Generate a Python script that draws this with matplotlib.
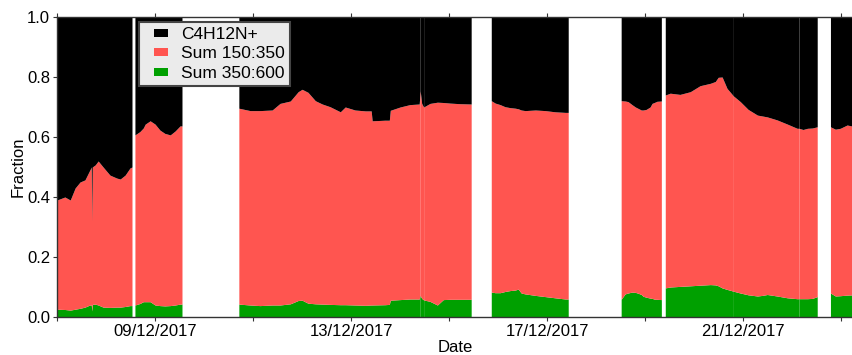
import numpy as np
import pandas as pd
import matplotlib
matplotlib.use("Agg")
import matplotlib.pyplot as plt
import matplotlib.dates as mdates
from matplotlib.patches import Rectangle
from matplotlib.legend_handler import HandlerPatch

plt.rcParams['font.family'] = ['Liberation Sans', 'DejaVu Sans']

# Fractions of the three signal groups, logged in chunks (days since 07/12/2017)
start = pd.Timestamp("2017-12-07 00:00")

chunk_days = [
    [0.00, 0.16, 0.27, 0.37, 0.47, 0.57, 0.67, 0.70, 0.71, 0.72, 0.78, 0.84,
     0.94, 1.08, 1.22, 1.29, 1.39, 1.49, 1.53],
    [1.59, 1.69, 1.76, 1.80, 1.90, 2.00, 2.10, 2.20, 2.31, 2.41, 2.51, 2.55],
    [3.71, 3.94, 4.14, 4.39, 4.55, 4.76, 4.92, 5.00, 5.12, 5.27, 5.41, 5.57,
     5.78, 5.88, 6.08, 6.29, 6.41, 6.43, 6.69, 6.78, 6.80, 7.00, 7.20, 7.39, 7.41],
    [7.41, 7.44, 7.48],
    [7.48, 7.61, 7.76, 7.88, 8.02, 8.22, 8.45],
    [8.86, 8.94, 9.04, 9.14, 9.24, 9.35, 9.41, 9.47, 9.55, 9.76, 9.96, 10.16,
     10.37, 10.43],
    [11.51, 11.59, 11.65, 11.73, 11.80, 11.86, 11.92, 11.96, 12.02, 12.10,
     12.14, 12.20, 12.24, 12.33],
    [12.41, 12.51, 12.71, 12.92, 13.12, 13.33, 13.43, 13.49, 13.57, 13.67, 13.80],
    [13.80, 13.94, 14.10, 14.29, 14.39, 14.49, 14.69, 14.90, 15.10, 15.14],
    [15.14, 15.22, 15.31, 15.41, 15.51],
    [15.78, 15.88, 15.98, 16.12, 16.29],
]

# Sum 350:600
chunk_s350 = [
    [0.026, 0.025, 0.023, 0.026, 0.029, 0.033, 0.040, 0.040, 0.020, 0.042, 0.043,
     0.040, 0.033, 0.032, 0.033, 0.033, 0.035, 0.038, 0.038],
    [0.040, 0.045, 0.051, 0.051, 0.051, 0.040, 0.038, 0.037, 0.038, 0.040, 0.043, 0.043],
    [0.043, 0.040, 0.038, 0.040, 0.040, 0.044, 0.055, 0.056, 0.046, 0.044, 0.043,
     0.042, 0.041, 0.041, 0.040, 0.039, 0.040, 0.040, 0.041, 0.042, 0.056, 0.058,
     0.060, 0.060, 0.072],
    [0.072, 0.062, 0.057],
    [0.057, 0.052, 0.040, 0.058, 0.059, 0.059, 0.059],
    [0.083, 0.081, 0.081, 0.085, 0.088, 0.090, 0.093, 0.080, 0.077, 0.072, 0.068,
     0.064, 0.060, 0.060],
    [0.059, 0.077, 0.080, 0.083, 0.082, 0.079, 0.075, 0.069, 0.066, 0.063, 0.062,
     0.059, 0.059, 0.058],
    [0.097, 0.100, 0.102, 0.104, 0.106, 0.108, 0.107, 0.104, 0.097, 0.092, 0.086],
    [0.086, 0.080, 0.074, 0.070, 0.072, 0.075, 0.070, 0.064, 0.061, 0.061],
    [0.061, 0.061, 0.061, 0.062, 0.068],
    [0.080, 0.070, 0.071, 0.073, 0.074],
]

# Sum 150:350
chunk_s150 = [
    [0.364, 0.375, 0.367, 0.404, 0.421, 0.424, 0.450, 0.460, 0.300, 0.458, 0.464,
     0.480, 0.467, 0.441, 0.430, 0.427, 0.438, 0.459, 0.462],
    [0.567, 0.573, 0.579, 0.592, 0.603, 0.603, 0.585, 0.575, 0.569, 0.580, 0.594, 0.594],
    [0.653, 0.648, 0.650, 0.650, 0.672, 0.676, 0.696, 0.703, 0.703, 0.677, 0.667,
     0.659, 0.643, 0.659, 0.650, 0.648, 0.647, 0.614, 0.615, 0.614, 0.633, 0.642,
     0.648, 0.650, 0.682],
    [0.682, 0.650, 0.643],
    [0.643, 0.660, 0.676, 0.657, 0.654, 0.652, 0.651],
    [0.638, 0.632, 0.627, 0.616, 0.610, 0.606, 0.601, 0.610, 0.611, 0.618, 0.620,
     0.620, 0.622, 0.622],
    [0.662, 0.643, 0.638, 0.625, 0.618, 0.616, 0.615, 0.621, 0.626, 0.637, 0.650,
     0.657, 0.660, 0.662],
    [0.643, 0.646, 0.640, 0.647, 0.665, 0.671, 0.678, 0.695, 0.703, 0.670, 0.651],
    [0.651, 0.638, 0.618, 0.603, 0.598, 0.592, 0.587, 0.579, 0.568, 0.568],
    [0.568, 0.564, 0.568, 0.568, 0.566],
    [0.554, 0.556, 0.558, 0.567, 0.560],
]

# C4H12N+
chunk_c4 = [
    [0.610, 0.600, 0.610, 0.570, 0.550, 0.543, 0.510, 0.500, 0.680, 0.500, 0.493,
     0.480, 0.500, 0.527, 0.537, 0.540, 0.527, 0.503, 0.500],
    [0.393, 0.382, 0.370, 0.357, 0.346, 0.357, 0.377, 0.388, 0.393, 0.380, 0.363, 0.363],
    [0.304, 0.312, 0.312, 0.310, 0.288, 0.280, 0.249, 0.241, 0.251, 0.279, 0.290,
     0.299, 0.316, 0.300, 0.310, 0.313, 0.313, 0.346, 0.344, 0.344, 0.311, 0.300,
     0.292, 0.290, 0.246],
    [0.246, 0.288, 0.300],
    [0.300, 0.288, 0.284, 0.285, 0.287, 0.289, 0.290],
    [0.279, 0.287, 0.292, 0.299, 0.302, 0.304, 0.306, 0.310, 0.312, 0.310, 0.312,
     0.316, 0.318, 0.318],
    [0.279, 0.280, 0.282, 0.292, 0.300, 0.305, 0.310, 0.310, 0.308, 0.300, 0.288,
     0.284, 0.281, 0.280],
    [0.260, 0.254, 0.258, 0.249, 0.229, 0.221, 0.215, 0.201, 0.200, 0.238, 0.263],
    [0.263, 0.282, 0.308, 0.327, 0.330, 0.333, 0.343, 0.357, 0.371, 0.371],
    [0.371, 0.375, 0.371, 0.370, 0.366],
    [0.366, 0.374, 0.371, 0.360, 0.366],
]

labels = ["C4H12N+", "Sum 150:350", "Sum 350:600"]
colors = ["#000000", "#ff5550", "#00a000"]

fig = plt.figure(figsize=(8.52, 3.55), dpi=100)
ax = fig.add_axes([57 / 852, 38 / 355, 796 / 852, 300 / 355])

for days, g, r, k in zip(chunk_days, chunk_s350, chunk_s150, chunk_c4):
    t = start + pd.to_timedelta(np.array(days), unit="D")
    g = np.array(g)
    r = np.array(r)
    k = np.array(k)
    ax.fill_between(t, 0, g, color=colors[2], lw=0)
    ax.fill_between(t, g, g + r, color=colors[1], lw=0)
    ax.fill_between(t, g + r, g + r + k, color=colors[0], lw=0)

ax.set_xlim(start, start + pd.Timedelta(days=16.24))
ax.set_ylim(0, 1)
ax.set_yticks(np.arange(0, 1.01, 0.2))
ax.yaxis.set_major_formatter(plt.FormatStrFormatter("%.1f"))

ax.xaxis.set_major_locator(mdates.DayLocator(bymonthday=[9, 13, 17, 21]))
ax.xaxis.set_minor_locator(mdates.DayLocator(bymonthday=[7, 11, 15, 19, 23]))
ax.xaxis.set_major_formatter(mdates.DateFormatter("%d/%m/%Y"))
ax.tick_params(axis="both", which="both", labelsize=12, length=3, width=0.8,
               top=True, color="#333333")
ax.tick_params(axis="x", which="both", pad=2)
ax.tick_params(axis="y", pad=2)

for s in ax.spines.values():
    s.set_linewidth(1.0)
    s.set_color("#333333")

ax.set_xlabel("Date", fontsize=12, labelpad=1)
ax.set_ylabel("Fraction", fontsize=12, labelpad=1)


# small flat boxes as legend keys
def legend_box(legend, orig_handle, xdescent, ydescent, width, height, fontsize):
    w, h = 10.0, 5.8
    return Rectangle((-xdescent + width - w, -ydescent + (height - h) / 2), w, h,
                     facecolor=orig_handle.get_facecolor(), edgecolor="none")


handles = [Rectangle((0, 0), 1, 1, facecolor=c) for c in colors]
leg = ax.legend(handles, labels, loc="upper left", bbox_to_anchor=(0.103, 0.985),
                borderaxespad=0, fontsize=12.5, handlelength=1.35,
                handletextpad=0.75, labelspacing=0.25, borderpad=0.3,
                fancybox=False, framealpha=1,
                handler_map={Rectangle: HandlerPatch(patch_func=legend_box)})
leg.get_frame().set_facecolor("#ebebeb")
leg.get_frame().set_edgecolor("#444444")
leg.get_frame().set_linewidth(1.5)

fig.savefig("out.png", dpi=100)
